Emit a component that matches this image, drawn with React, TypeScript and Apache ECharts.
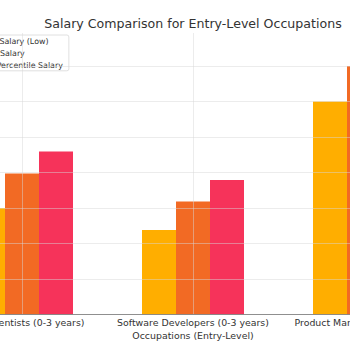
import React, { useEffect, useRef } from "react";
import * as echarts from "echarts";

const categories = [
  "Data Scientists (0-3 years)",
  "Software Developers (0-3 years)",
  "Product Managers (0-3 years)",
];
const seriesNames = ["Entry Salary (Low)", "Mean Salary", "90th Percentile Salary"];
const lowSalary = [60000, 47600, 120000];
const meanSalary = [79500, 63600, 140000];
const highSalary = [91800, 75800, 151000];
const colors = ["#FFAE00", "#F26A24", "#F6335A"];

const FONT = "DejaVu Sans";
const GRID = "rgba(215,215,215,0.6)";

export default function App() {
  const ref = useRef<HTMLDivElement>(null);
  useEffect(() => {
    if (!ref.current) return;
    const chart = echarts.init(ref.current, null, { renderer: "svg" });
    const values = [lowSalary, meanSalary, highSalary];
    const splitColors = [GRID, GRID, GRID, GRID, GRID, GRID, GRID, GRID, "rgba(0,0,0,0)"];
    chart.setOption({
      animation: false,
      backgroundColor: "#ffffff",
      textStyle: { fontFamily: FONT },
      title: {
        text: "Salary Comparison for Entry-Level Occupations",
        left: "center",
        top: 12,
        textStyle: { fontFamily: FONT, fontSize: 12.6, fontWeight: "normal", color: "#333333" },
      },
      legend: {
        data: seriesNames,
        orient: "vertical",
        left: 49,
        top: 35,
        itemWidth: 18,
        itemHeight: 6,
        itemGap: 4.4,
        padding: [2, 6, 1, 4],
        backgroundColor: "#ffffff",
        borderColor: "#d8d8d8",
        borderWidth: 0.8,
        borderRadius: 2,
        textStyle: { fontFamily: FONT, fontSize: 7.9, color: "#333333" },
      },
      grid: { left: 36.5, width: 513, top: 33, height: 281.5 },
      xAxis: {
        type: "category",
        data: categories,
        name: "Occupations (Entry-Level)",
        nameLocation: "middle",
        nameGap: 14.5,
        nameTextStyle: { fontFamily: FONT, fontSize: 9.4, color: "#333333" },
        axisLine: { lineStyle: { color: "#777777", width: 0.8 } },
        axisTick: { alignWithLabel: true, length: 3, lineStyle: { color: "#777777", width: 0.8 } },
        axisLabel: { interval: 0, fontFamily: FONT, fontSize: 9.4, color: "#333333", margin: 3 },
        splitLine: { show: false },
        z: 6,
      },
      yAxis: {
        type: "value",
        min: 0,
        max: 158600,
        interval: 20000,
        axisLabel: { show: false },
        axisLine: { show: false },
        axisTick: { show: false },
        splitLine: { lineStyle: { color: splitColors, width: 0.8 } },
        z: 5,
      },
      series: seriesNames.map((name, i) => ({
        name,
        type: "bar",
        data: values[i],
        barWidth: 34,
        barGap: "0%",
        itemStyle: { color: colors[i] },
        z: 2,
        markLine:
          i === 1
            ? {
                silent: true,
                symbol: "none",
                label: { show: false },
                lineStyle: { color: GRID, width: 0.8, type: "solid" },
                data: categories.map((c) => ({ xAxis: c })),
                z: 5,
              }
            : undefined,
      })),
    });
    return () => chart.dispose();
  }, []);
  return (
    <div style={{ position: "absolute", left: 0, top: 0, width: 350, height: 350, overflow: "hidden", background: "#fff" }}>
      <div ref={ref} style={{ position: "absolute", left: -100, top: 0, width: 586, height: 350 }} />
    </div>
  );
}
